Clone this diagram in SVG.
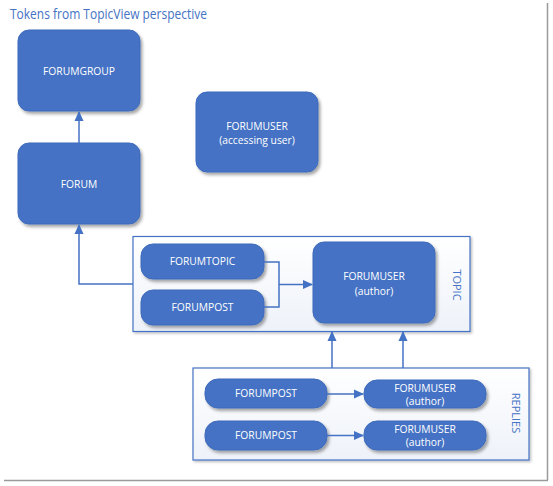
<svg xmlns="http://www.w3.org/2000/svg" width="553" height="486" viewBox="0 0 553 486">
<defs>
<filter id="sh" x="-20%" y="-20%" width="150%" height="160%">
<feDropShadow dx="2" dy="2.5" stdDeviation="1.8" flood-color="#000" flood-opacity="0.35"/>
</filter>
<filter id="shc" x="-10%" y="-10%" width="120%" height="130%">
<feDropShadow dx="1.5" dy="1.5" stdDeviation="1.2" flood-color="#000" flood-opacity="0.25"/>
</filter>
<linearGradient id="cg" x1="0" y1="0" x2="0" y2="1">
<stop offset="0" stop-color="#ffffff"/>
<stop offset="1" stop-color="#eef2f9"/>
</linearGradient>
<marker id="ah" markerWidth="10" markerHeight="10" refX="9" refY="5" orient="auto" markerUnits="userSpaceOnUse">
<path d="M0,0.5 L10,5 L0,9.5 Z" fill="#4472C4"/>
</marker>
</defs>
<style>
.n{fill:#4472C4;stroke:#3f6bbb;stroke-width:1;filter:url(#sh)}
.t{fill:#ffffff;font-family:"Open Sans","Noto Sans",sans-serif;font-size:10.3px;text-anchor:middle}
.c{fill:url(#cg);stroke:#4472C4;stroke-width:1.2;filter:url(#shc)}
.cl{fill:#4472C4;font-family:"Open Sans","Noto Sans",sans-serif;font-size:11px;text-anchor:middle}
.e{fill:none;stroke:#4472C4;stroke-width:1.5}
</style>
<rect width="553" height="486" fill="#ffffff"/>
<g id="frame">
<line x1="547.5" y1="3" x2="547.5" y2="480" stroke="#9a9a9a" stroke-width="1.5"/>
<line x1="4" y1="480.5" x2="548" y2="480.5" stroke="#9a9a9a" stroke-width="1.5"/>
</g>
<text x="10" y="19" fill="#4472C4" font-family="Open Sans, Noto Sans, sans-serif" font-size="14" textLength="197" lengthAdjust="spacingAndGlyphs">Tokens from TopicView perspective</text>
<g id="topic-container">
<rect class="c" x="133" y="236.5" width="337" height="95"/>
<text class="cl" transform="translate(453,285) rotate(90)">TOPIC</text>
</g>
<g id="replies-container">
<rect class="c" x="193" y="368" width="336" height="92"/>
<text class="cl" transform="translate(512,413) rotate(90)">REPLIES</text>
</g>
<g id="forumgroup">
<rect class="n" x="18" y="30" width="122" height="81" rx="11"/>
<text class="t" x="79" y="74.5">FORUMGROUP</text>
</g>
<g id="forum">
<rect class="n" x="18" y="143" width="122" height="81" rx="11"/>
<text class="t" x="79" y="187.5">FORUM</text>
</g>
<g id="forumuser-accessing">
<rect class="n" x="196" y="92" width="122" height="80" rx="11"/>
<text class="t" x="257" y="129.5">FORUMUSER</text>
<text class="t" x="257" y="143.5">(accessing user)</text>
</g>
<g id="forumtopic">
<rect class="n" x="141" y="244" width="123" height="35" rx="12"/>
<text class="t" x="202.5" y="265">FORUMTOPIC</text>
</g>
<g id="forumpost-topic">
<rect class="n" x="141" y="290" width="123" height="35" rx="12"/>
<text class="t" x="202.5" y="311">FORUMPOST</text>
</g>
<g id="forumuser-author">
<rect class="n" x="313" y="242" width="122" height="81" rx="11"/>
<text class="t" x="374" y="279.5">FORUMUSER</text>
<text class="t" x="374" y="294.5">(author)</text>
</g>
<g id="reply-post-1">
<rect class="n" x="205" y="379" width="122" height="29" rx="13"/>
<text class="t" x="266" y="397">FORUMPOST</text>
</g>
<g id="reply-user-1">
<rect class="n" x="364" y="380" width="122" height="28" rx="13"/>
<text class="t" x="425" y="391.5">FORUMUSER</text>
<text class="t" x="425" y="404.5">(author)</text>
</g>
<g id="reply-post-2">
<rect class="n" x="205" y="421" width="122" height="29" rx="13"/>
<text class="t" x="266" y="439">FORUMPOST</text>
</g>
<g id="reply-user-2">
<rect class="n" x="364" y="421" width="122" height="29" rx="13"/>
<text class="t" x="425" y="433">FORUMUSER</text>
<text class="t" x="425" y="446">(author)</text>
</g>
<g id="connectors">
<path class="e" d="M79,143 L79,112" marker-end="url(#ah)"/>
<path class="e" d="M133,284 L79,284 L79,225" marker-end="url(#ah)"/>
<path class="e" d="M264,262 L279,262 L279,307 L264,307"/>
<path class="e" d="M279,284.5 L312,284.5" marker-end="url(#ah)"/>
<path class="e" d="M332,368 L332,332" marker-end="url(#ah)"/>
<path class="e" d="M403,368 L403,332" marker-end="url(#ah)"/>
<path class="e" d="M327,394 L363,394" marker-end="url(#ah)"/>
<path class="e" d="M327,435.5 L363,435.5" marker-end="url(#ah)"/>
</g>
</svg>
